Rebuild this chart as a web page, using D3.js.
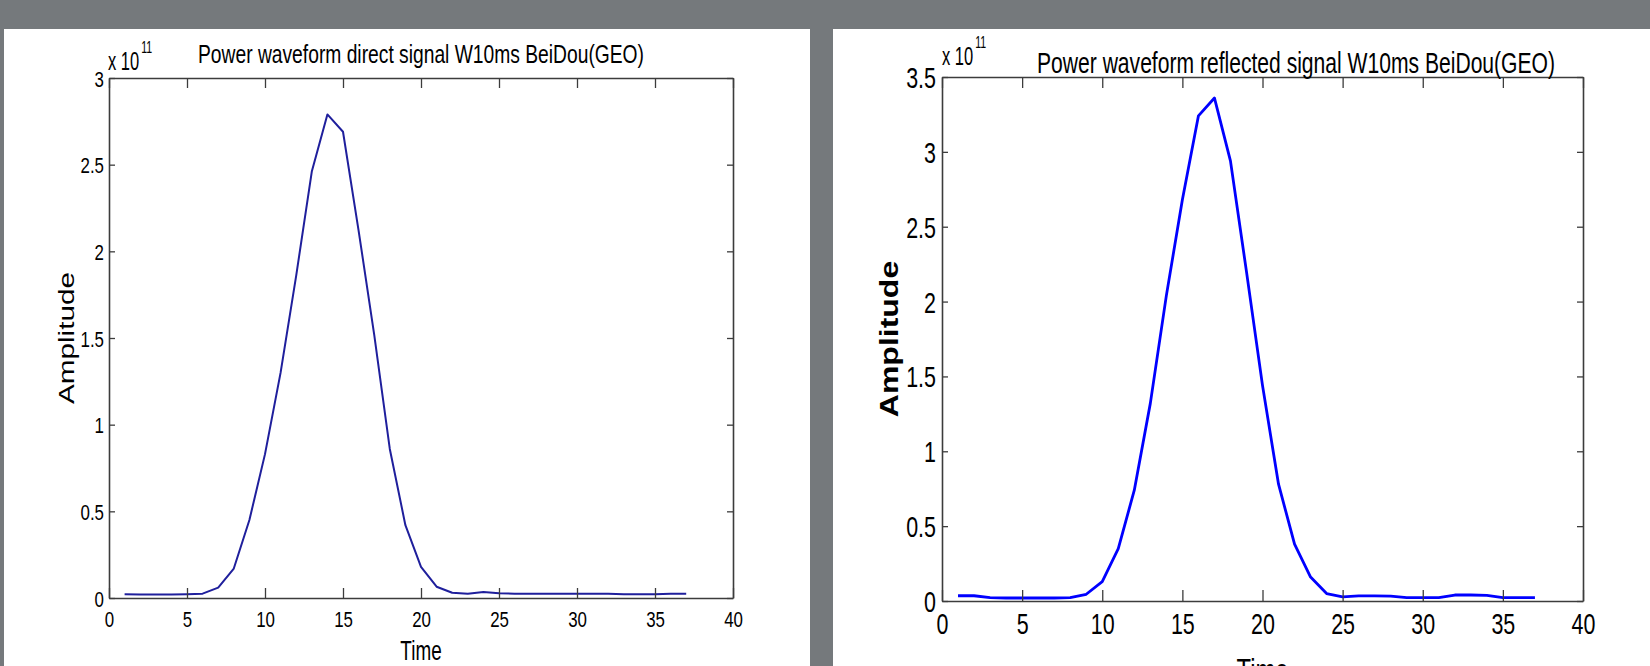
<!DOCTYPE html>
<html>
<head>
<meta charset="utf-8">
<script src="https://cdn.jsdelivr.net/npm/d3@7"></script>
<style>
  html, body { margin: 0; padding: 0; background: #75797c; }
  svg { display: block; }
</style>
</head>
<body>
<svg id="chart"></svg>
<script>
// time samples (same for both waveforms)
var timeSteps = [1, 2, 3, 4, 5, 6, 7, 8, 9, 10, 11, 12, 13, 14, 15, 16, 17, 18, 19,
    20, 21, 22, 23, 24, 25, 26, 27, 28, 29, 30, 31, 32, 33, 34, 35, 36, 37];

// amplitudes, in units of 1e11
var directAmp = [0.022, 0.02, 0.02, 0.02, 0.022, 0.025, 0.06, 0.17, 0.45, 0.83, 1.30, 1.86, 2.46,
    2.79, 2.69, 2.12, 1.52, 0.86, 0.42, 0.18, 0.065, 0.03, 0.025, 0.035, 0.028, 0.025, 0.024,
    0.025, 0.024, 0.025, 0.024, 0.025, 0.022, 0.022, 0.022, 0.025, 0.025];

var reflectedAmp = [0.035, 0.035, 0.022, 0.02, 0.02, 0.02, 0.02, 0.022, 0.045, 0.13, 0.35, 0.74,
    1.32, 2.04, 2.68, 3.24, 3.36, 2.94, 2.20, 1.44, 0.78, 0.38, 0.16, 0.05, 0.028, 0.034, 0.034,
    0.032, 0.022, 0.022, 0.022, 0.04, 0.04, 0.038, 0.022, 0.022, 0.022];

var xTickValues = [0, 5, 10, 15, 20, 25, 30, 35, 40];
var yTicksDirect = [0, 0.5, 1, 1.5, 2, 2.5, 3];
var yTicksReflected = [0, 0.5, 1, 1.5, 2, 2.5, 3, 3.5];

var directTitle = "Power waveform direct signal W10ms BeiDou(GEO)";
var reflectedTitle = "Power waveform reflected signal W10ms BeiDou(GEO)";

const svgWidth = 1650,
    svgHeight = 666;

var svg = d3.select("#chart")
    .attr("width", svgWidth)
    .attr("height", svgHeight)
    .style("font-family", "'Liberation Sans', Arial, Helvetica, sans-serif");

svg.append("rect")
    .attr("width", svgWidth)
    .attr("height", svgHeight)
    .attr("fill", "#75797c");

var panels = [{
        id: "direct",
        values: directAmp,
        yTicks: yTicksDirect,
        yMax: 3,
        title: directTitle,
        box: { x: 4, y: 29, w: 806, h: 637 },
        axes: { l: 109, r: 733, t: 78, b: 598 },
        color: "#1f1f9c",
        lineWidth: 2,
        tickFont: 22.5, tickSx: 0.75, xLabelY: 29, yLabelGap: 5, tickLenX: 10, tickLenY: 6,
        titleFont: 26, titleX: 198, titleY: 63, titleLen: 446,
        expX: 108, expY: 70, expFont: 25, expSx: 0.66,
        timeFont: 27, timeY: 660, timeSx: 0.7,
        ampFont: 22, ampX: 74, ampStretch: 1.35, ampWeight: "normal"
    },
    {
        id: "reflected",
        values: reflectedAmp,
        yTicks: yTicksReflected,
        yMax: 3.5,
        title: reflectedTitle,
        box: { x: 833, y: 29, w: 817, h: 637 },
        axes: { l: 942, r: 1583, t: 77, b: 601 },
        color: "#0000ff",
        lineWidth: 2.8,
        tickFont: 29, tickSx: 0.74, xLabelY: 33, yLabelGap: 6, tickLenX: 11, tickLenY: 6,
        titleFont: 30, titleX: 1037, titleY: 73, titleLen: 518,
        expX: 942, expY: 65, expFont: 25, expSx: 0.66,
        timeFont: 34, timeY: 682, timeSx: 0.7,
        ampFont: 25, ampX: 898, ampStretch: 1.28, ampWeight: "bold"
    }
];

function addText(parent, x, y, str, size, sx, anchor) {
    return parent.append("text")
        .attr("transform", "translate(" + x + "," + y + ") scale(" + sx + ",1)")
        .attr("text-anchor", anchor || "start")
        .attr("font-size", size)
        .attr("fill", "#000")
        .text(str);
}

panels.forEach(function(p) {
    svg.append("clipPath")
        .attr("id", "clip-" + p.id)
        .append("rect")
        .attr("x", p.box.x)
        .attr("y", p.box.y)
        .attr("width", p.box.w)
        .attr("height", p.box.h);

    var g = svg.append("g")
        .attr("clip-path", "url(#clip-" + p.id + ")");

    g.append("rect")
        .attr("x", p.box.x)
        .attr("y", p.box.y)
        .attr("width", p.box.w)
        .attr("height", p.box.h)
        .attr("fill", "#fff");

    var x = d3.scaleLinear()
        .domain([0, 40])
        .range([p.axes.l, p.axes.r]);

    var y = d3.scaleLinear()
        .domain([0, p.yMax])
        .range([p.axes.b, p.axes.t]);

    var line = d3.line()
        .x((d, i) => x(timeSteps[i]))
        .y(d => y(d));

    g.append("path")
        .datum(p.values)
        .attr("d", line)
        .attr("fill", "none")
        .attr("stroke", p.color)
        .attr("stroke-width", p.lineWidth)
        .attr("stroke-linejoin", "round");

    // box with inward ticks on all four sides
    var bottomAxis = g.append("g")
        .attr("transform", "translate(0," + p.axes.b + ")")
        .call(d3.axisBottom(x).tickValues(xTickValues).tickSizeInner(-p.tickLenX).tickSizeOuter(0).tickFormat(d => d));

    var topAxis = g.append("g")
        .attr("transform", "translate(0," + p.axes.t + ")")
        .call(d3.axisTop(x).tickValues(xTickValues).tickSizeInner(-p.tickLenX).tickSizeOuter(0).tickFormat(""));

    var leftAxis = g.append("g")
        .attr("transform", "translate(" + p.axes.l + ",0)")
        .call(d3.axisLeft(y).tickValues(p.yTicks).tickSizeInner(-p.tickLenY).tickSizeOuter(0).tickFormat(d => d));

    var rightAxis = g.append("g")
        .attr("transform", "translate(" + p.axes.r + ",0)")
        .call(d3.axisRight(y).tickValues(p.yTicks).tickSizeInner(-p.tickLenY).tickSizeOuter(0).tickFormat(""));

    [bottomAxis, topAxis, leftAxis, rightAxis].forEach(function(a) {
        a.attr("font-family", null).attr("font-size", p.tickFont).attr("color", "#3c3c3c");
        a.select(".domain").attr("stroke-width", 1.6);
        a.selectAll(".tick line").attr("stroke-width", 1.3);
    });

    bottomAxis.selectAll(".tick text")
        .attr("y", null)
        .attr("dy", null)
        .attr("fill", "#000")
        .attr("transform", "translate(0," + p.xLabelY + ") scale(" + p.tickSx + ",1)");

    leftAxis.selectAll(".tick text")
        .attr("x", null)
        .attr("dy", "0.36em")
        .attr("fill", "#000")
        .attr("transform", "translate(" + (-p.yLabelGap) + ",0) scale(" + p.tickSx + ",1)");

    // title
    g.append("text")
        .attr("x", p.titleX)
        .attr("y", p.titleY)
        .attr("font-size", p.titleFont)
        .attr("textLength", p.titleLen)
        .attr("lengthAdjust", "spacingAndGlyphs")
        .attr("fill", "#000")
        .text(p.title);

    // exponent
    var exp = addText(g, p.expX, p.expY, "x 10", p.expFont, p.expSx, "start");
    exp.append("tspan")
        .attr("dy", -17)
        .attr("dx", 3)
        .attr("font-size", 16)
        .text("11");

    // axis labels
    addText(g, (p.axes.l + p.axes.r) / 2, p.timeY, "Time", p.timeFont, p.timeSx, "middle");

    g.append("text")
        .attr("transform", "translate(" + p.ampX + "," + (p.axes.t + p.axes.b) / 2 + ") rotate(-90) scale(" + p.ampStretch + ",1)")
        .attr("text-anchor", "middle")
        .attr("font-size", p.ampFont)
        .attr("font-weight", p.ampWeight)
        .attr("fill", "#000")
        .text("Amplitude");
});
</script>
</body>
</html>
